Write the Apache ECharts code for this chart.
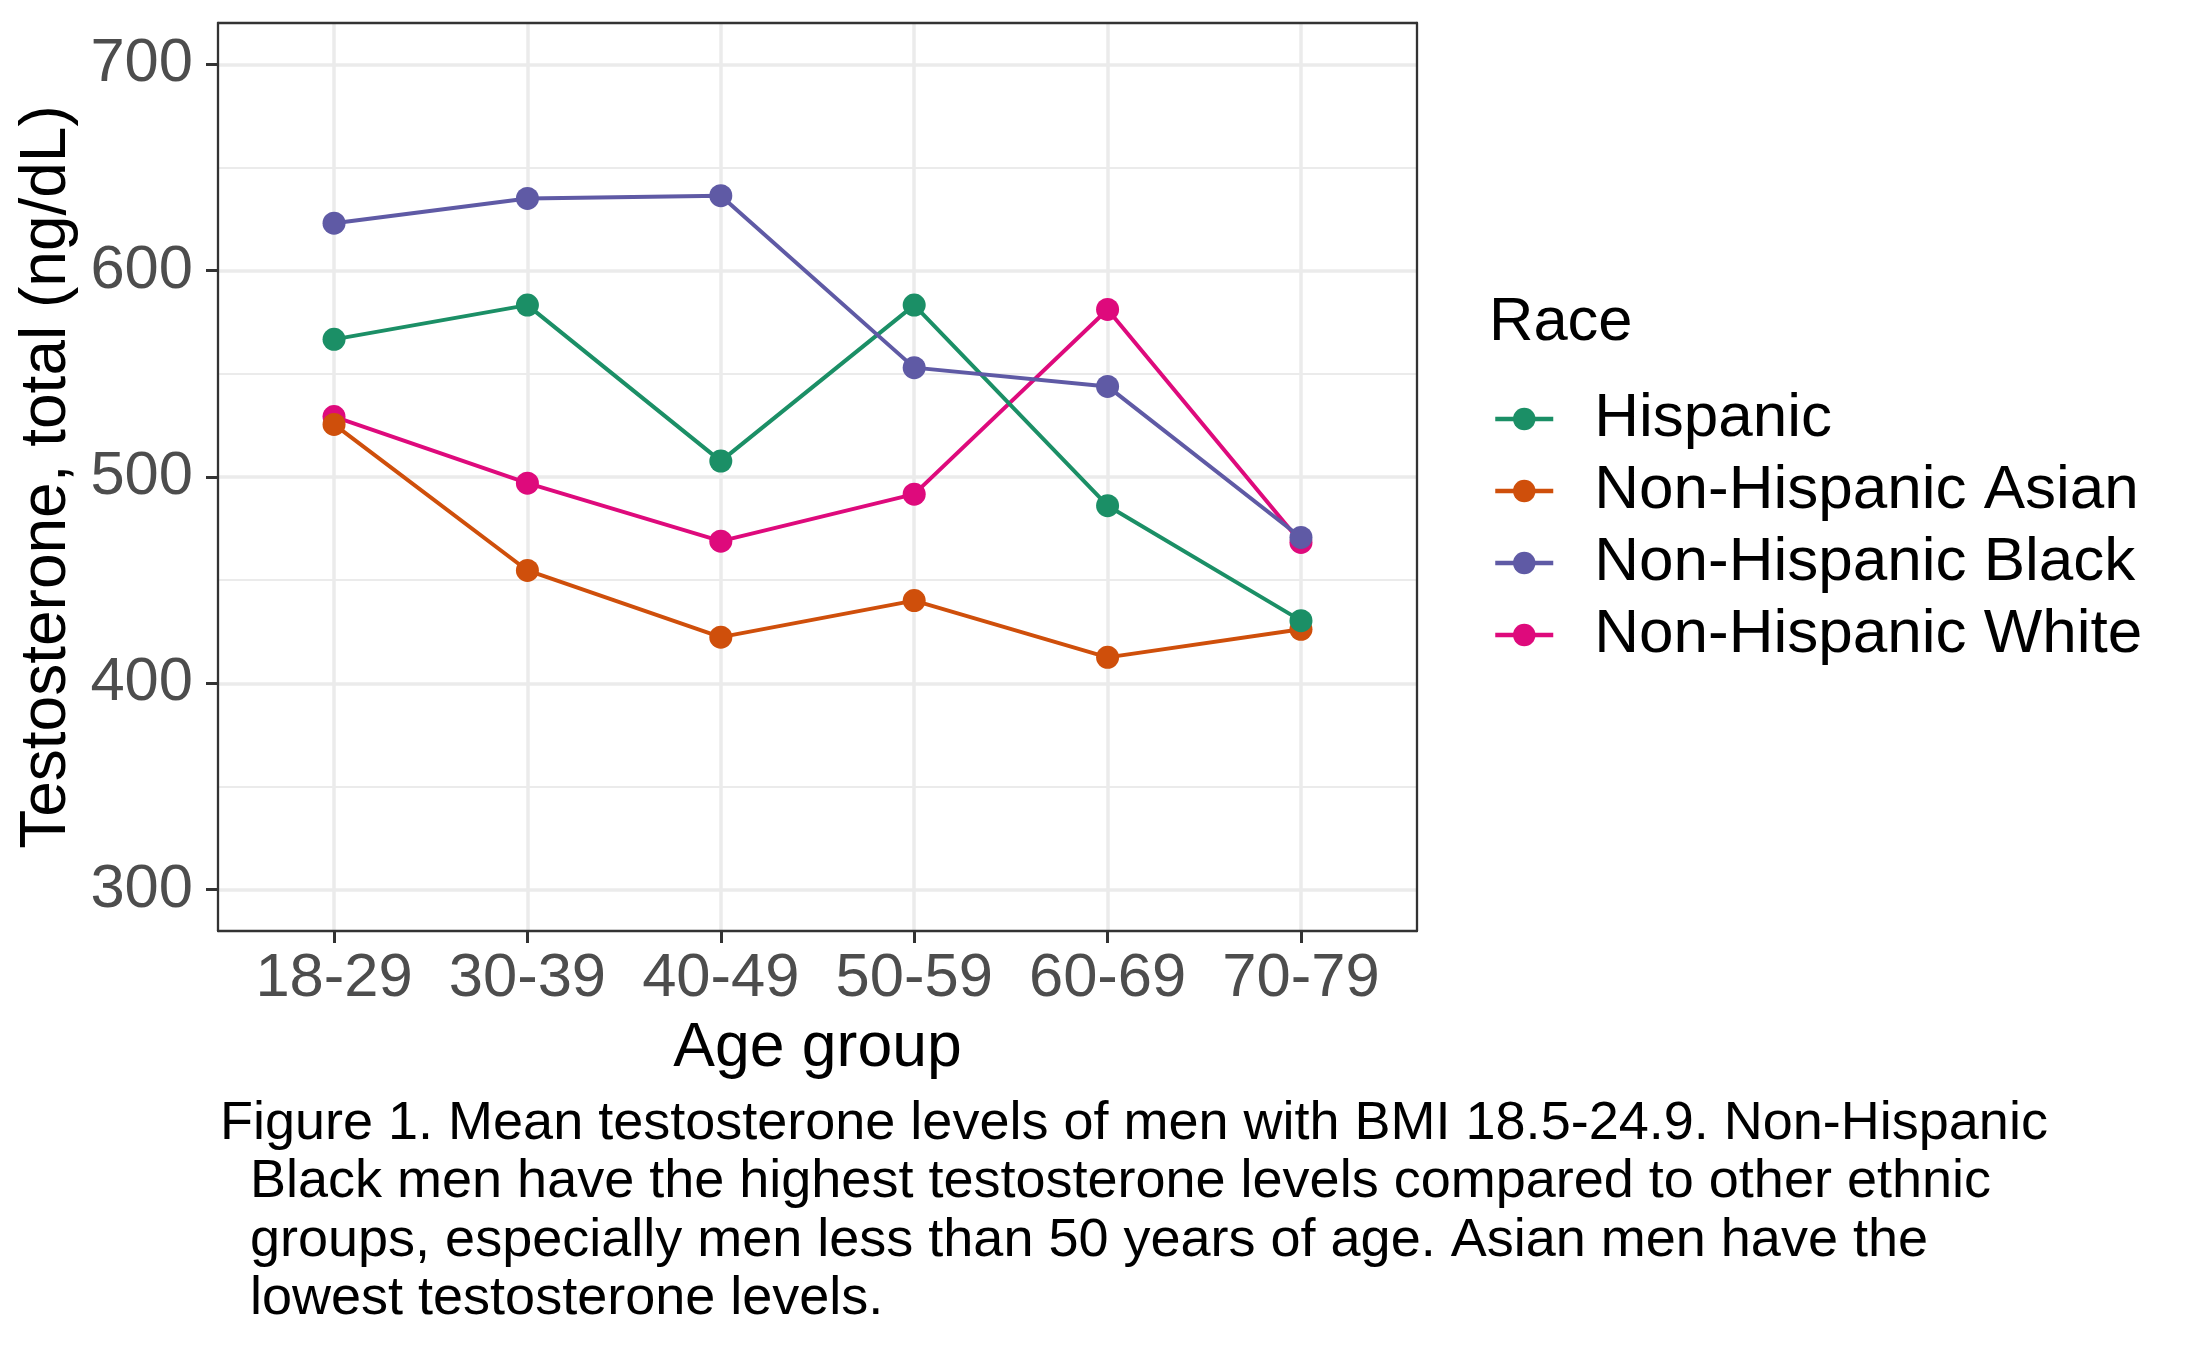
<!DOCTYPE html>
<html>
<head>
<meta charset="utf-8">
<script src="https://cdn.jsdelivr.net/npm/echarts@6/dist/echarts.min.js"></script>
<style>
  html, body { margin: 0; padding: 0; background: #fff; }
  #chart { width: 2187px; height: 1351px; }
</style>
</head>
<body>
<div id="chart"></div>
<script>
// ---- data ----
const ageGroups = ['18-29', '30-39', '40-49', '50-59', '60-69', '70-79'];
const hispanic = [566.7, 583.3, 507.7, 583.3, 486.1, 430.4];
const asian    = [525.5, 454.7, 422.4, 440.1, 412.6, 426.2];
const black    = [623.0, 635.0, 636.3, 553.0, 543.9, 470.7];
const white    = [529.3, 497.0, 468.9, 491.7, 581.2, 468.3];
const raceNames = ['Hispanic', 'Non-Hispanic Asian', 'Non-Hispanic Black', 'Non-Hispanic White'];
const yTicks = [300, 400, 500, 600, 700];
const yMinorTicks = [350, 450, 550, 650];
const xTicks = [1, 2, 3, 4, 5, 6];
const captionLines = [
  'Figure 1. Mean testosterone levels of men with BMI 18.5-24.9. Non-Hispanic',
  '  Black men have the highest testosterone levels compared to other ethnic',
  '  groups, especially men less than 50 years of age. Asian men have the',
  '  lowest testosterone levels.'
];

const FONT = "'Liberation Sans', Arial, Helvetica, sans-serif";
const colors = {
  'Hispanic': '#1B8F66',
  'Non-Hispanic Asian': '#CF4F0B',
  'Non-Hispanic Black': '#5F5AA5',
  'Non-Hispanic White': '#DE0A7C'
};
const valuesByRace = {
  'Hispanic': hispanic,
  'Non-Hispanic Asian': asian,
  'Non-Hispanic Black': black,
  'Non-Hispanic White': white
};
// drawing order (later on top)
const drawOrder = ['Non-Hispanic White', 'Non-Hispanic Asian', 'Hispanic', 'Non-Hispanic Black'];

function toPairs(arr) { return arr.map((v, i) => [xTicks[i], v]); }

const series = drawOrder.map(name => ({
  name: name,
  type: 'line',
  data: toPairs(valuesByRace[name]),
  symbol: 'circle',
  symbolSize: 23,
  showSymbol: true,
  showAllSymbol: true,
  lineStyle: { color: colors[name], width: 4 },
  itemStyle: { color: colors[name] },
  emphasis: { disabled: true }
}));

const chart = echarts.init(document.getElementById('chart'), null, { renderer: 'canvas' });
chart.setOption({
  animation: false,
  backgroundColor: '#ffffff',
  textStyle: { fontFamily: FONT },
  title: [
    {
      text: 'Race',
      left: 1489, top: 292,
      textStyle: { fontFamily: FONT, fontSize: 61.5, fontWeight: 'normal', color: '#000', lineHeight: 62 },
      padding: 0
    },
    {
      text: captionLines.join('\n'),
      left: 220, top: 1095,
      textStyle: { fontFamily: FONT, fontSize: 54, fontWeight: 'normal', color: '#000', lineHeight: 58.3 },
      padding: 0
    }
  ],
  grid: {
    left: 218, top: 23, right: 2187 - 1417, bottom: 1351 - 931,
    containLabel: false,
    outerBoundsMode: 'none',
    show: false
  },
  legend: {
    data: raceNames,
    orient: 'vertical',
    left: 1493,
    top: 388,
    itemWidth: 58,
    itemHeight: 28,
    itemGap: 10,
    padding: 0,
    selectedMode: false,
    lineStyle: { width: 4.5 },
    textStyle: { fontFamily: FONT, fontSize: 62, color: '#000', lineHeight: 62, padding: [0, 0, 0, 36] }
  },
  xAxis: [
    {
      type: 'value',
      min: 0.4, max: 6.6,
      name: 'Age group',
      nameLocation: 'middle',
      nameGap: 86,
      nameTextStyle: { fontFamily: FONT, fontSize: 62.5, color: '#000' },
      axisLine: { show: true, onZero: false, lineStyle: { color: '#333333', width: 2.3 } },
      axisTick: { show: true, length: 12, customValues: xTicks, lineStyle: { color: '#333333', width: 3 } },
      axisLabel: {
        show: true, margin: 17, customValues: xTicks,
        fontFamily: FONT, fontSize: 61.5, color: '#4D4D4D',
        formatter: v => ageGroups[Math.round(v) - 1] || ''
      },
      splitLine: { show: true, lineStyle: { color: '#EBEBEB', width: 3.5 } },
      minorSplitLine: { show: false }
    },
    {
      type: 'value',
      position: 'top',
      min: 0.4, max: 6.6,
      axisLine: { show: true, onZero: false, lineStyle: { color: '#333333', width: 2.3 } },
      axisTick: { show: false },
      axisLabel: { show: false },
      splitLine: { show: false }
    }
  ],
  yAxis: [
    {
      type: 'value',
      min: 280, max: 720,
      name: 'Testosterone, total (ng/dL)',
      nameLocation: 'middle',
      nameRotate: 90,
      nameGap: 136,
      nameTextStyle: { fontFamily: FONT, fontSize: 64, color: '#000' },
      axisLine: { show: true, onZero: false, lineStyle: { color: '#333333', width: 2.3 } },
      axisTick: { show: true, length: 12, customValues: yTicks, lineStyle: { color: '#333333', width: 3 } },
      axisLabel: {
        show: true, margin: 25, customValues: yTicks,
        fontFamily: FONT, fontSize: 61.5, color: '#4D4D4D'
      },
      splitLine: { show: true, lineStyle: { color: '#EBEBEB', width: 3.5 } }
    },
    {
      type: 'value',
      position: 'right',
      min: 280, max: 720,
      axisLine: { show: true, onZero: false, lineStyle: { color: '#333333', width: 2.3 } },
      axisTick: { show: false, customValues: yMinorTicks },
      axisLabel: { show: false },
      splitLine: { show: true, lineStyle: { color: '#EBEBEB', width: 2 } }
    }
  ],
  series: series
});
</script>
</body>
</html>
